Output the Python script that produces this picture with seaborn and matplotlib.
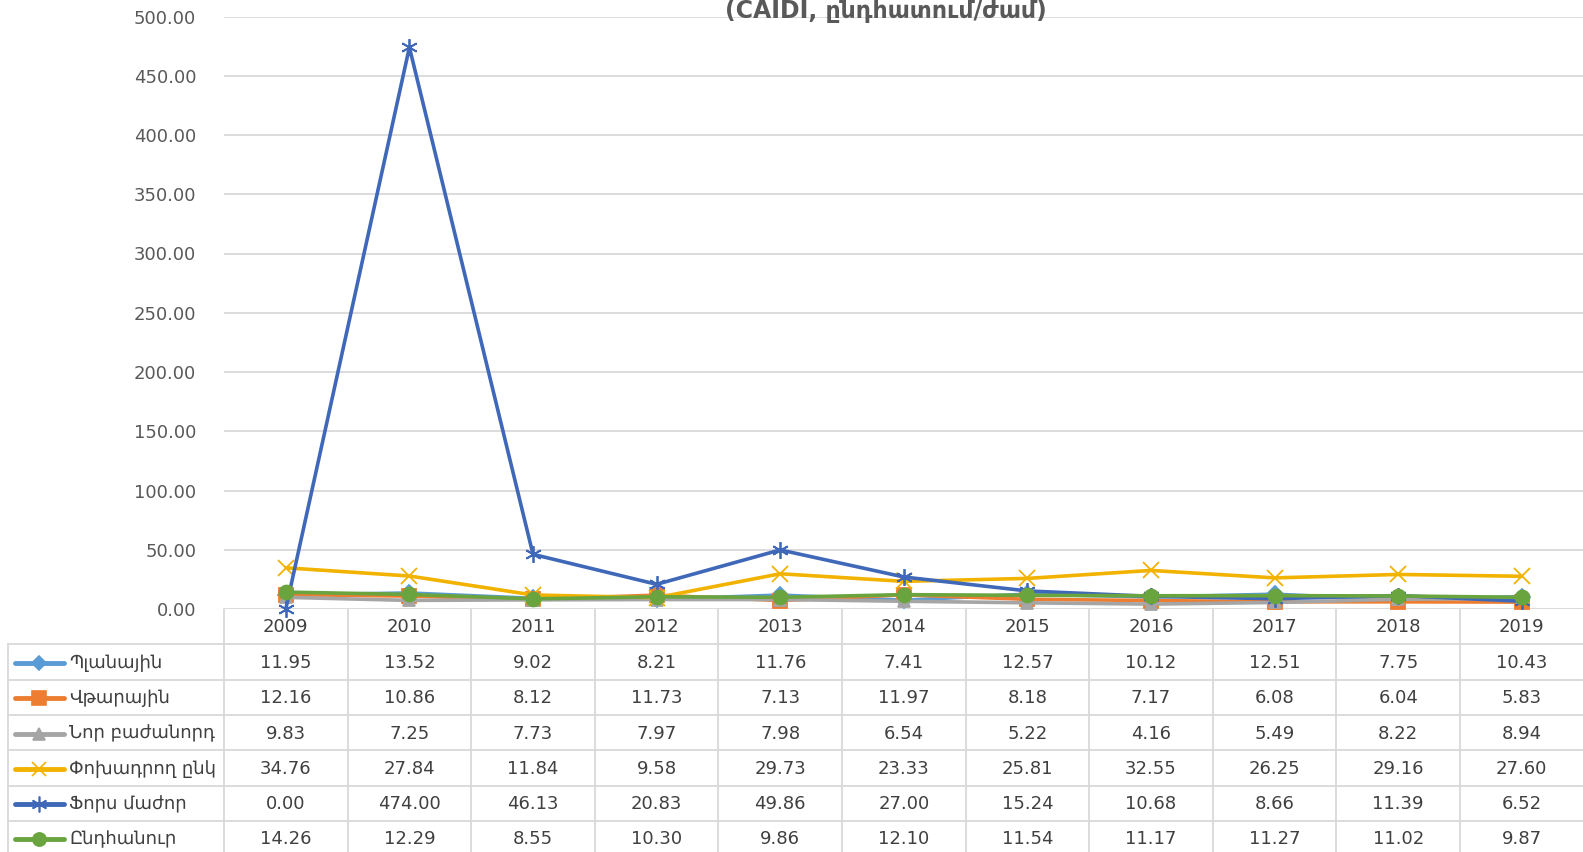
import numpy as np
import pandas as pd
import matplotlib
matplotlib.use('Agg')
import matplotlib.pyplot as plt
import matplotlib.transforms as mtransforms
from matplotlib.lines import Line2D
import seaborn as sns

years = ["2009", "2010", "2011", "2012", "2013", "2014", "2015", "2016", "2017", "2018", "2019"]
planayin = [11.95, 13.52, 9.02, 8.21, 11.76, 7.41, 12.57, 10.12, 12.51, 7.75, 10.43]
vtarayin = [12.16, 10.86, 8.12, 11.73, 7.13, 11.97, 8.18, 7.17, 6.08, 6.04, 5.83]
nor_bazhanord = [9.83, 7.25, 7.73, 7.97, 7.98, 6.54, 5.22, 4.16, 5.49, 8.22, 8.94]
pokhadrogh = [34.76, 27.84, 11.84, 9.58, 29.73, 23.33, 25.81, 32.55, 26.25, 29.16, 27.60]
fors_mazhor = [0.00, 474.00, 46.13, 20.83, 49.86, 27.00, 15.24, 10.68, 8.66, 11.39, 6.52]
yndhanur = [14.26, 12.29, 8.55, 10.30, 9.86, 12.10, 11.54, 11.17, 11.27, 11.02, 9.87]

series_names = ["Պլանային", "Վթարային", "Նոր բաժանորդ", "Փոխադրող ընկ", "Ֆորս մաժոր", "Ընդհանուր"]
series_values = [planayin, vtarayin, nor_bazhanord, pokhadrogh, fors_mazhor, yndhanur]
colors = ["#5B9BD5", "#ED7D31", "#A5A5A5", "#F2B200", "#4068B8", "#6AA43F"]
markers = ["D", "s", "^", "x", (6, 2, 0), "o"]
msizes = [8, 10, 9, 11, 12, 10]

title = "(CAIDI, ընդհատում/ժամ)"

sns.set_theme(style="white")
plt.rcParams['font.family'] = ['DejaVu Sans']

W, H = 1583, 852
fig = plt.figure(figsize=(W / 100, H / 100), dpi=100)
ax_top, ax_bot = 16.5, 609
ax_left, col_w = 224, 123.6
n = len(years)
ax = fig.add_axes([ax_left / W, 1 - ax_bot / H, n * col_w / W, (ax_bot - ax_top) / H])

x = np.arange(n)
for name, vals, c, m, ms in zip(series_names, series_values, colors, markers, msizes):
    sns.lineplot(x=x, y=vals, ax=ax, color=c, linewidth=2.6, marker=m, markersize=ms,
                 markeredgecolor=c, markerfacecolor=c, markeredgewidth=1.3, label=name,
                 legend=False, clip_on=False, zorder=3)

ax.set_xlim(-0.5, n - 0.5)
ax.set_ylim(0, 500)
ax.set_yticks(np.arange(0, 501, 50))
ax.set_yticklabels([f"{v:.2f}" for v in np.arange(0, 501, 50)], fontsize=13, color="#595959")
ax.tick_params(axis="y", length=0, pad=20)
ax.set_xticks([])
ax.yaxis.grid(True, color="#D9D9D9", linewidth=1.3)
ax.set_axisbelow(True)
for s in ax.spines.values():
    s.set_visible(False)

fig.text(886 / W, 1 - 18 / H, title, ha="center", va="baseline", fontsize=17,
         fontweight="bold", color="#595959")

# data table below the plot
gc = "#D9D9D9"
tc = "#404040"
def fy(p):
    return 1 - p / H
blend = mtransforms.blended_transform_factory(ax.transData, fig.transFigure)
row_top = ax_bot
row_h = 35.3
n_rows = len(series_names)
bottom = row_top + row_h * (n_rows + 1)

# horizontal lines
for r in range(1, n_rows + 2):
    yy = row_top + r * row_h
    fig.add_artist(Line2D([8 / W, 1], [fy(yy), fy(yy)], color=gc, lw=1.3))
# column lines
for i in range(n):
    xx = i - 0.5
    fig.add_artist(Line2D([xx, xx], [fy(row_top), fy(bottom)], color=gc, lw=1.3,
                          transform=blend))
fig.add_artist(Line2D([8 / W, 8 / W], [fy(row_top + row_h), fy(bottom)], color=gc, lw=1.3))

for i, yr in enumerate(years):
    fig.text(i, fy(row_top + row_h / 2), yr, transform=blend, ha="center", va="center",
             fontsize=13, color=tc)

for r, (name, vals, c, m, ms) in enumerate(zip(series_names, series_values, colors, markers, msizes)):
    yc = fy(row_top + row_h * (r + 1) + row_h / 2 + 1)
    fig.add_artist(Line2D([15 / W, 64 / W], [yc, yc], color=c, lw=3.5))
    fig.add_artist(Line2D([39 / W], [yc], color=c, marker=m, markersize=ms * 0.95,
                          markeredgecolor=c, markerfacecolor=c, markeredgewidth=1.2))
    fig.text(69 / W, yc, name, ha="left", va="center", fontsize=13, color=tc)
    for i, v in enumerate(vals):
        fig.text(i, yc, f"{v:.2f}", transform=blend, ha="center", va="center",
                 fontsize=13, color=tc)

fig.savefig("out.png", dpi=100)
